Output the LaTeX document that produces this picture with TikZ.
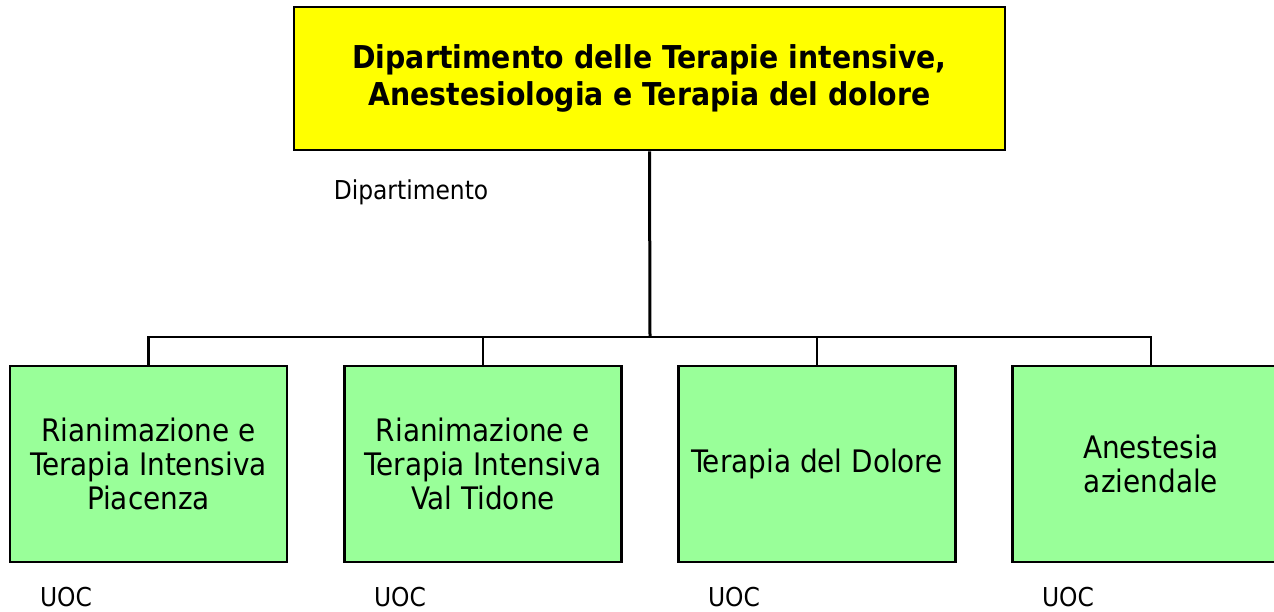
\documentclass[tikz,border=0pt]{standalone}
\usepackage{fontspec}
\setmainfont{DejaVu Sans Condensed}
\usepackage{tikz}
\usetikzlibrary{positioning}
\definecolor{giallo}{RGB}{255,255,0}
\definecolor{verde}{RGB}{153,255,153}

\begin{document}
\begin{tikzpicture}[x=1pt,y=-1pt,line join=miter,
  dipbox/.style={draw=black,line width=2.5pt,fill=giallo,minimum width=711pt,minimum height=143pt,
    align=center,inner sep=0pt,font=\fontsize{31.5}{37}\selectfont\bfseries},
  uocbox/.style={draw=black,line width=2.5pt,fill=verde,minimum width=277pt,minimum height=196pt,
    align=center,inner sep=0pt,font=\fontsize{31}{34}\selectfont},
  lbl/.style={inner sep=0pt,font=\fontsize{26}{30}\selectfont},
  conn/.style={line width=2.5pt}]
\useasboundingbox (0,0) rectangle (1274,611);
% dipartimento
\node[dipbox] (dip) at (649.5,78.5) {Dipartimento delle Terapie intensive,\\Anestesiologia e Terapia del dolore};
\node[lbl] (diplbl) at (411,192) {Dipartimento};
% unita operative
\node[uocbox] (rtipc) at (148.5,464) {Rianimazione e\\Terapia Intensiva\\Piacenza};
\node[uocbox] (rtivt) at (483,464) {Rianimazione e\\Terapia Intensiva\\Val Tidone};
\node[uocbox] (tdol) at (817,464) {Terapia del Dolore};
\node[uocbox] (anest) at (1151,464) {Anestesia\\aziendale};
\node[lbl] (uoc1) at (66,597) {UOC};
\node[lbl] (uoc2) at (400,597) {UOC};
\node[lbl] (uoc3) at (734,597) {UOC};
\node[lbl] (uoc4) at (1068,597) {UOC};
% collegamenti
\coordinate (bus) at (650,337);
\draw[conn,line width=3pt] (dip.south) -- (bus);
\draw[conn] (rtipc.north) |- (anest.north |- bus) -- (anest.north);
\draw[conn] (rtivt.north) -- (rtivt.north |- bus);
\draw[conn] (tdol.north) -- (tdol.north |- bus);
\end{tikzpicture}
\end{document}
